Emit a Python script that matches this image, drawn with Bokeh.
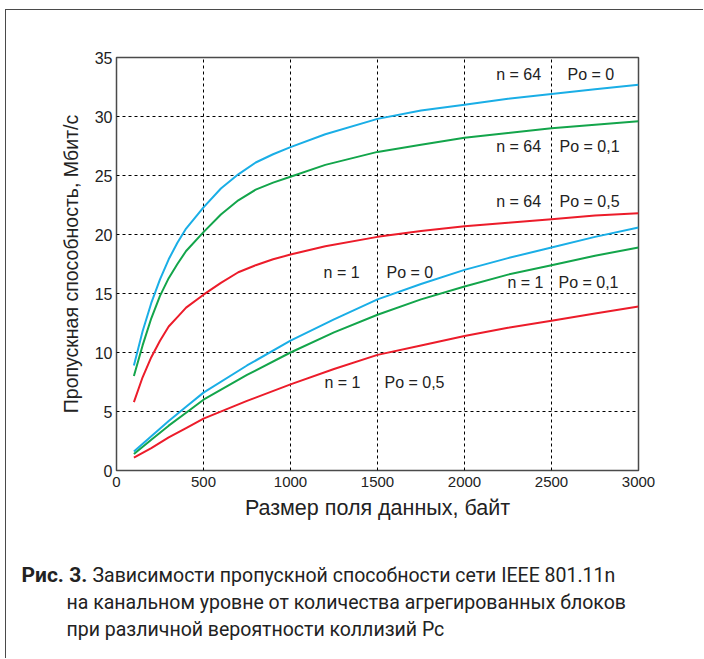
from bokeh.plotting import figure
from bokeh.layouts import column
from bokeh.models import Label, FixedTicker, Range1d, Div
from bokeh.embed import file_html
from bokeh.resources import INLINE

# ---- data ----
x_n64 = [100, 150, 200, 250, 300, 350, 400, 500, 600, 700, 800, 900, 1000, 1200, 1500, 1750, 2000, 2250, 2500, 2750, 3000]
n64_po0 = [8.9, 11.8, 14.2, 16.2, 17.9, 19.3, 20.5, 22.3, 23.9, 25.1, 26.1, 26.8, 27.4, 28.5, 29.8, 30.5, 31.0, 31.5, 31.9, 32.3, 32.7]
n64_po01 = [8.0, 10.6, 12.9, 14.8, 16.3, 17.5, 18.6, 20.2, 21.7, 22.9, 23.8, 24.4, 24.9, 25.9, 27.0, 27.6, 28.2, 28.6, 29.0, 29.3, 29.6]
n64_po05 = [5.8, 7.9, 9.6, 11.0, 12.2, 13.0, 13.8, 14.9, 15.9, 16.8, 17.4, 17.9, 18.3, 19.0, 19.8, 20.3, 20.7, 21.0, 21.3, 21.6, 21.8]

x_n1 = [100, 200, 300, 400, 500, 750, 1000, 1250, 1500, 1750, 2000, 2250, 2500, 2750, 3000]
n1_po0 = [1.6, 2.9, 4.2, 5.4, 6.6, 8.9, 11.0, 12.8, 14.5, 15.8, 17.0, 18.0, 18.9, 19.8, 20.6]
n1_po01 = [1.4, 2.6, 3.8, 4.9, 6.0, 8.1, 10.0, 11.7, 13.2, 14.5, 15.6, 16.6, 17.4, 18.2, 18.9]
n1_po05 = [1.1, 1.9, 2.8, 3.6, 4.4, 5.9, 7.3, 8.6, 9.8, 10.6, 11.4, 12.1, 12.7, 13.3, 13.9]

x_ticks = [0, 500, 1000, 1500, 2000, 2500, 3000]
y_ticks = [0, 5, 10, 15, 20, 25, 30, 35]

n_labels = ["n = 64", "n = 64", "n = 64", "n = 1", "n = 1", "n = 1"]
po_labels = ["Po = 0", "Po = 0,1", "Po = 0,5", "Po = 0", "Po = 0,1", "Po = 0,5"]

x_title = "Размер поля данных, байт"
y_title = "Пропускная способность, Мбит/с"
caption_bold = "Рис. 3."
caption_lines = [
    "Зависимости пропускной способности сети IEEE 801.11n",
    "на канальном уровне от количества агрегированных блоков",
    "при различной вероятности коллизий Pc",
]

BLUE = "#1aaee6"
GREEN = "#13a54b"
RED = "#ec1c2a"
FRAME = "#4a4a4a"
TXT = "#222222"

W = 697
P_H = 525
CAP_H = 123

p = figure(width=W, height=P_H, output_backend="svg", toolbar_location=None,
           x_range=Range1d(0, 3000), y_range=Range1d(0, 35),
           min_border_left=110, min_border_right=W - 110 - 522, min_border_top=47,
           min_border_bottom=P_H - 47 - 413)
p.background_fill_color = "white"
p.border_fill_color = "white"
p.outline_line_color = FRAME
p.outline_line_width = 1.5

for ax in (p.xaxis, p.yaxis):
    ax.axis_line_color = None
    ax.major_tick_line_color = None
    ax.minor_tick_line_color = None
    ax.major_tick_out = 0
    ax.major_tick_in = 0
    ax.major_label_text_font = "Liberation Sans"
    ax.major_label_text_color = TXT
    ax.axis_label_text_font = "Liberation Sans"
    ax.axis_label_text_font_style = "normal"
    ax.axis_label_text_color = TXT

p.xaxis.major_label_text_font_size = "15px"
p.yaxis.major_label_text_font_size = "16px"
p.xaxis.axis_label_text_font_size = "21.5px"
p.yaxis.axis_label_text_font_size = "19.5px"
p.xaxis.ticker = FixedTicker(ticks=x_ticks)
p.yaxis.ticker = FixedTicker(ticks=y_ticks)
p.xaxis.axis_label = x_title
p.yaxis.axis_label = y_title
p.xaxis.major_label_standoff = 6
p.yaxis.major_label_standoff = 4
p.xaxis.axis_label_standoff = 6
p.yaxis.axis_label_standoff = 10

for g in (p.xgrid, p.ygrid):
    g.grid_line_color = "#000000"
    g.grid_line_dash = "3 3"
    g.grid_line_width = 1
p.xgrid.ticker = FixedTicker(ticks=x_ticks[1:-1])
p.ygrid.ticker = FixedTicker(ticks=y_ticks[1:-1])

LW = 2
p.line(x_n64, n64_po0, color=BLUE, line_width=LW)
p.line(x_n64, n64_po01, color=GREEN, line_width=LW)
p.line(x_n64, n64_po05, color=RED, line_width=LW)
p.line(x_n1, n1_po0, color=BLUE, line_width=LW)
p.line(x_n1, n1_po01, color=GREEN, line_width=LW)
p.line(x_n1, n1_po05, color=RED, line_width=LW)

# annotation positions (data space)
n_pos = [(2440, 33.6), (2440, 27.5), (2440, 22.8), (1397, 16.8), (2454, 15.9), (1402, 7.5)]
po_pos = [(2592, 33.6), (2546, 27.5), (2546, 22.8), (1552, 16.8), (2540, 15.9), (1540, 7.5)]
for t, (x, y) in zip(n_labels, n_pos):
    p.add_layout(Label(x=x, y=y, text=t, text_align="right", text_baseline="middle",
                       text_font="Liberation Sans", text_font_size="16px", text_color=TXT))
for t, (x, y) in zip(po_labels, po_pos):
    p.add_layout(Label(x=x, y=y, text=t, text_align="left", text_baseline="middle",
                       text_font="Liberation Sans", text_font_size="16px", text_color=TXT))

# caption (HTML text below the chart)
cap_html = (
    '<div style="font-family: Roboto, sans-serif; font-size: 19.5px; line-height: 27px; '
    'color: %s; padding-top: 27px; padding-left: 60.5px; text-indent: -45px; white-space: nowrap;">'
    '<span style="display: inline-block; width: 71px; text-indent: 0; font-weight: bold; '
    'font-size: 21px;">%s</span>%s<br>%s<br>%s'
    '</div>'
) % (TXT, caption_bold, caption_lines[0], caption_lines[1], caption_lines[2])
cap = Div(text=cap_html, width=W, height=CAP_H, margin=0)

layout = column(p, cap, spacing=0, margin=(9, 0, 0, 5),
                styles={"border-top": "1.5px solid " + FRAME, "border-left": "1.5px solid " + FRAME,
                        "background-color": "white"})

open("out.html", "w").write(file_html(layout, INLINE))
